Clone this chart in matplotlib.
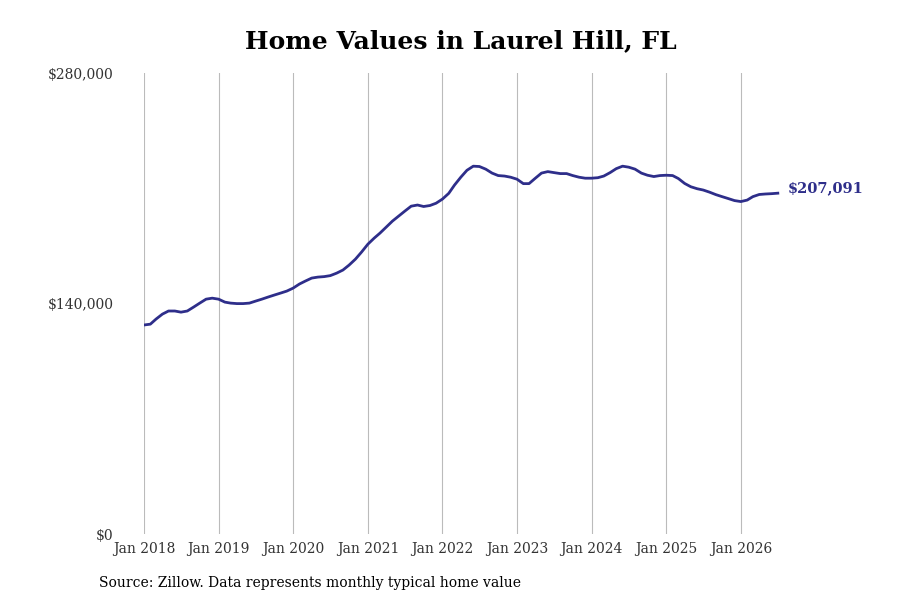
import matplotlib.pyplot as plt
import numpy as np
import pandas as pd

plt.rcParams['font.family'] = 'DejaVu Serif'

# Monthly typical home value, Jan 2018 - Jul 2026
values = [127.0, 127.5, 130.6, 133.6, 135.5, 135.5, 134.8, 135.5, 137.9, 140.3, 142.7, 143.3,
          142.7, 140.9, 140.3, 140.0, 140.0, 140.3, 141.5, 142.7, 144.0, 145.2, 146.4, 147.6,
          149.4, 151.9, 153.7, 155.5, 156.1, 156.4, 157.0, 158.5, 160.4, 163.4, 167.0, 171.3,
          176.1, 179.8, 182.8, 186.5, 190.1, 193.2, 196.2, 199.2, 199.9, 199.0, 199.6, 201.0,
          203.5, 207.0, 212.0, 216.8, 221.0, 223.5, 223.3, 221.7, 219.3, 217.8, 217.5, 216.8,
          215.6, 212.9, 212.9, 216.2, 219.3, 220.2, 219.6, 219.0, 219.0, 217.8, 216.8, 216.2,
          216.2, 216.5, 217.5, 219.6, 222.0, 223.5, 222.9, 221.7, 219.3, 218.0, 217.2, 217.8,
          218.0, 217.8, 216.0, 213.0, 211.0, 209.8, 209.0, 207.7, 206.2, 205.0, 203.8, 202.6,
          202.0, 202.9, 205.0, 206.3, 206.6, 206.8, 207.091]
dates = pd.date_range('2018-01-01', periods=len(values), freq='MS')
years = list(range(2018, 2027))
line_color = '#2e2e8a'

fig = plt.figure(figsize=(9, 6), dpi=100)
ax = fig.add_axes([0.16, 0.11, 0.746, 0.768])

ax.plot(dates, np.array(values) * 1000, color=line_color, linewidth=2)
ax.text(dates[-1] + pd.Timedelta(days=420), values[-1] * 1000 + 3000, '$207,091',
        color=line_color, fontsize=10.5, fontweight='bold', va='center', ha='right')

# Axes styling
ax.set_xlim(pd.Timestamp('2018-01-01'), pd.Timestamp('2027-01-01'))
ax.set_ylim(0, 280000)
ax.set_xticks([pd.Timestamp(f'{y}-01-01') for y in years])
ax.set_xticklabels([f'Jan {y}' for y in years])
ax.set_yticks([0, 140000, 280000])
ax.set_yticklabels(['$0', '$140,000', '$280,000'])
ax.grid(axis='x', color='#bbbbbb', linewidth=0.8)
ax.tick_params(length=0, labelsize=10, colors='#333333')
ax.tick_params(axis='y', pad=37 - 15)
ax.tick_params(axis='x', pad=6)
for s in ax.spines.values():
    s.set_visible(False)

fig.suptitle('Home Values in Laurel Hill, FL', x=0.512, fontsize=18, fontweight='bold', y=0.952)
fig.text(0.11, 0.022, 'Source: Zillow. Data represents monthly typical home value', fontsize=10)

fig.savefig('out.png')
